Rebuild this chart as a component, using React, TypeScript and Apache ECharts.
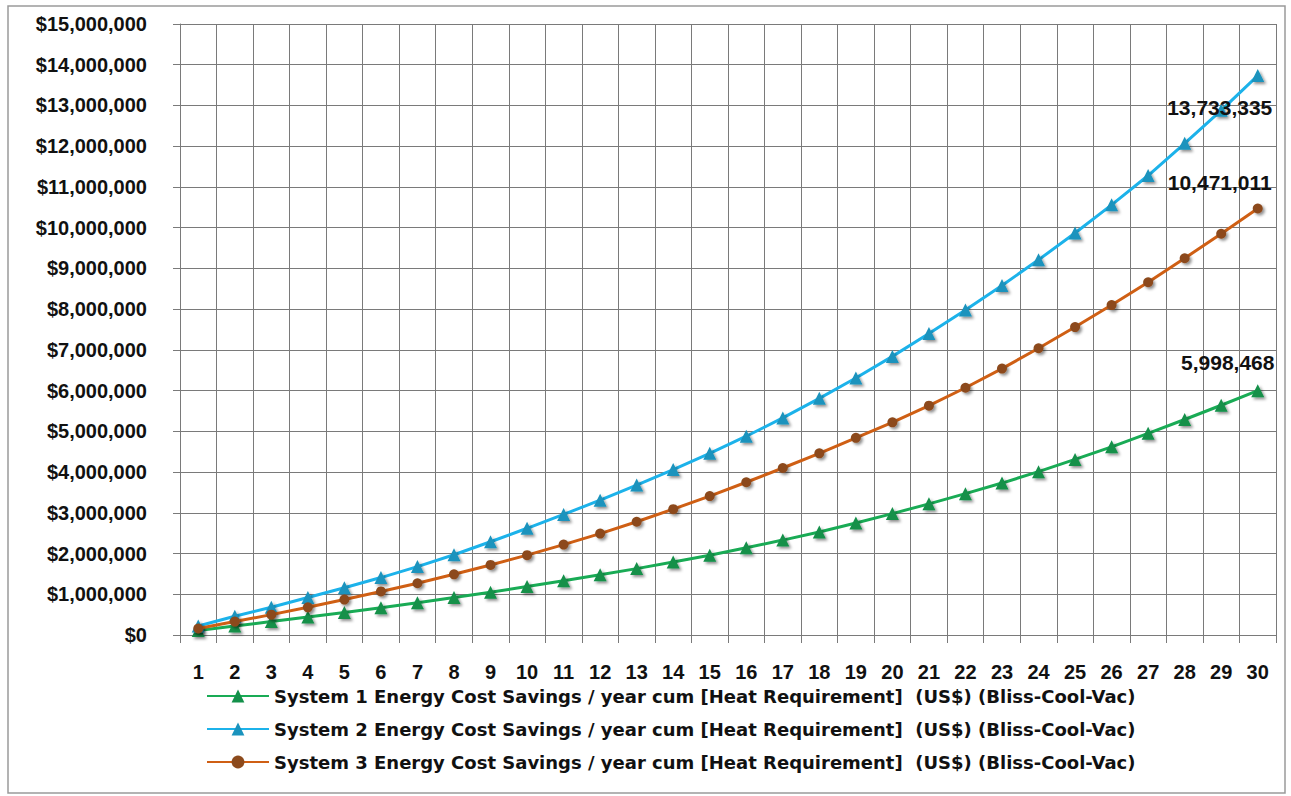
import React, { useEffect, useRef } from 'react';
import * as echarts from 'echarts';

const years = ['1','2','3','4','5','6','7','8','9','10','11','12','13','14','15','16','17','18','19','20','21','22','23','24','25','26','27','28','29','30'];

const seriesNames = [
  'System 1 Energy Cost Savings / year cum [Heat Requirement]  (US$) (Bliss-Cool-Vac)',
  'System 2 Energy Cost Savings / year cum [Heat Requirement]  (US$) (Bliss-Cool-Vac)',
  'System 3 Energy Cost Savings / year cum [Heat Requirement]  (US$) (Bliss-Cool-Vac)',
];

const system1 = [110000, 220000, 330000, 440000, 550000, 670000, 790000, 920000, 1050000, 1190000, 1330000, 1480000, 1630000, 1790000, 1960000, 2140000, 2330000, 2530000, 2750000, 2980000, 3220000, 3470000, 3730000, 4010000, 4310000, 4620000, 4950000, 5290000, 5640000, 5998468];
const system2 = [220000, 460000, 680000, 920000, 1160000, 1410000, 1680000, 1970000, 2290000, 2620000, 2960000, 3310000, 3680000, 4060000, 4460000, 4880000, 5330000, 5810000, 6310000, 6840000, 7400000, 7980000, 8580000, 9210000, 9870000, 10560000, 11280000, 12070000, 12880000, 13733335];
const system3 = [160000, 330000, 500000, 680000, 870000, 1070000, 1270000, 1490000, 1720000, 1960000, 2220000, 2490000, 2780000, 3090000, 3410000, 3750000, 4100000, 4460000, 4840000, 5220000, 5630000, 6070000, 6540000, 7040000, 7560000, 8100000, 8660000, 9250000, 9850000, 10471011];

const yMin = 0;
const yMax = 15000000;
const yStep = 1000000;

const fmt = (v: number) => String(Math.round(v)).replace(/\B(?=(\d{3})+(?!\d))/g, ',');

export default function App() {
  const ref = useRef<HTMLDivElement>(null);
  useEffect(() => {
    if (!ref.current) return;
    const chart = echarts.init(ref.current, undefined, { renderer: 'svg' });
    const font = '"Liberation Sans", Arial, sans-serif';
    const wideFont = '"DejaVu Sans", "Liberation Sans", sans-serif';
    const mkData = (arr: number[], off: number[]) =>
      arr.map((v, i) =>
        i === arr.length - 1
          ? {
              value: v,
              label: {
                show: true,
                position: 'inside',
                offset: off,
                formatter: (p: any) => fmt(p.value),
                color: '#111',
                fontWeight: 'bold',
                fontSize: 21,
                fontFamily: font,
              },
            }
          : v
      );
    const shadow = { shadowColor: 'rgba(0,0,0,0.45)', shadowBlur: 3, shadowOffsetX: 2, shadowOffsetY: 2 };
    chart.setOption({
      animation: false,
      backgroundColor: '#ffffff',
      textStyle: { fontFamily: font },
      graphic: [
        {
          type: 'rect',
          shape: { x: 8, y: 6, width: 1277, height: 787 },
          style: { fill: 'none', stroke: '#9a9a9a', lineWidth: 1.5 },
          z: 100,
        },
      ],
      grid: { left: 180, top: 24, right: 15, bottom: 161, containLabel: false },
      legend: {
        orient: 'vertical',
        left: 206,
        top: 687,
        padding: 0,
        itemWidth: 62,
        itemHeight: 16,
        itemGap: 15,
        textStyle: { fontSize: 18, fontWeight: 'bold', color: '#111', fontFamily: wideFont },
        data: seriesNames,
      },
      xAxis: {
        type: 'category',
        data: years,
        boundaryGap: true,
        axisLine: { lineStyle: { color: '#7a7a7a', width: 1 } },
        axisTick: { show: true, length: 8, lineStyle: { color: '#7a7a7a' } },
        splitLine: { show: true, lineStyle: { color: '#7a7a7a', width: 1 } },
        axisLabel: { color: '#111', fontSize: 20, fontWeight: 'bold', margin: 27, fontFamily: font, interval: 0 },
      },
      yAxis: {
        type: 'value',
        min: yMin,
        max: yMax,
        interval: yStep,
        axisLine: { show: true, lineStyle: { color: '#7a7a7a', width: 1 } },
        axisTick: { show: true, length: 7, lineStyle: { color: '#7a7a7a' } },
        splitLine: { show: true, lineStyle: { color: '#7a7a7a', width: 1 } },
        axisLabel: {
          color: '#111',
          fontSize: 20,
          fontWeight: 'bold',
          margin: 33,
          fontFamily: font,
          formatter: (v: number) => '$' + fmt(v),
        },
      },
      series: [
        {
          name: seriesNames[0],
          type: 'line',
          data: mkData(system1, [-30, -28]),
          symbol: 'triangle',
          symbolSize: 13,
          lineStyle: { color: '#19ab55', width: 3 },
          itemStyle: { color: '#13904a', ...shadow },
          z: 3,
        },
        {
          name: seriesNames[1],
          type: 'line',
          data: mkData(system2, [-38, 32]),
          symbol: 'triangle',
          symbolSize: 13,
          lineStyle: { color: '#1cb2ea', width: 3 },
          itemStyle: { color: '#1a93bd', ...shadow },
          z: 4,
        },
        {
          name: seriesNames[2],
          type: 'line',
          data: mkData(system3, [-38, -26]),
          symbol: 'circle',
          symbolSize: 10,
          lineStyle: { color: '#cf5f14', width: 3 },
          itemStyle: { color: '#8c4a1c', ...shadow },
          z: 5,
        },
      ],
    });
    return () => chart.dispose();
  }, []);
  return <div ref={ref} style={{ position: 'absolute', left: 0, top: 0, width: 1291, height: 796 }} />;
}
